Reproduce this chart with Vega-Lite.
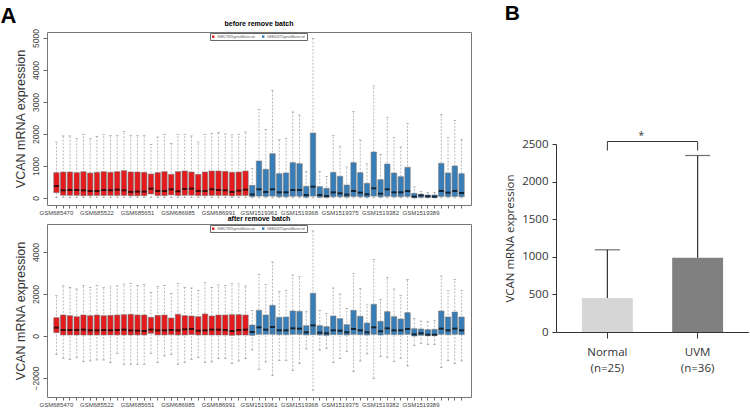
{
"$schema":"https://vega.github.io/schema/vega-lite/v6.json",
"background":"white",
"padding":{"left":0,"top":3,"right":0,"bottom":0},
"config":{"font":"Liberation Sans","view":{"stroke":"#777","strokeWidth":1},"axis":{"grid":false}},
"datasets":{
"before":[
{"s":"GSM685470","b":"GSE27831","lo":10,"q1":167,"med":375,"q3":792,"hi":1750},
{"s":"GSM685475","b":"GSE27831","lo":10,"q1":83,"med":240,"q3":812,"hi":1940},
{"s":"GSM685480","b":"GSE27831","lo":10,"q1":83,"med":250,"q3":812,"hi":1940},
{"s":"GSM685489","b":"GSE27831","lo":10,"q1":83,"med":250,"q3":792,"hi":1855},
{"s":"GSM685500","b":"GSE27831","lo":10,"q1":73,"med":240,"q3":823,"hi":1990},
{"s":"GSM685511","b":"GSE27831","lo":10,"q1":73,"med":220,"q3":780,"hi":1865},
{"s":"GSM685522","b":"GSE27831","lo":10,"q1":80,"med":220,"q3":802,"hi":1927},
{"s":"GSM685530","b":"GSE27831","lo":10,"q1":80,"med":250,"q3":823,"hi":1980},
{"s":"GSM685546","b":"GSE27831","lo":10,"q1":80,"med":240,"q3":802,"hi":1950},
{"s":"GSM685567","b":"GSE27831","lo":10,"q1":80,"med":260,"q3":823,"hi":1960},
{"s":"GSM685590","b":"GSE27831","lo":10,"q1":80,"med":240,"q3":854,"hi":2083},
{"s":"GSM685622","b":"GSE27831","lo":10,"q1":70,"med":190,"q3":812,"hi":1960},
{"s":"GSM685651","b":"GSE27831","lo":10,"q1":70,"med":200,"q3":812,"hi":1960},
{"s":"GSM685680","b":"GSE27831","lo":10,"q1":70,"med":200,"q3":802,"hi":1960},
{"s":"GSM685702","b":"GSE27831","lo":10,"q1":125,"med":292,"q3":750,"hi":1677},
{"s":"GSM685733","b":"GSE27831","lo":10,"q1":75,"med":220,"q3":792,"hi":1906},
{"s":"GSM685760","b":"GSE27831","lo":10,"q1":75,"med":220,"q3":823,"hi":1980},
{"s":"GSM685781","b":"GSE27831","lo":10,"q1":95,"med":270,"q3":740,"hi":1708},
{"s":"GSM686985","b":"GSE27831","lo":10,"q1":75,"med":210,"q3":823,"hi":1990},
{"s":"GSM686986","b":"GSE27831","lo":10,"q1":85,"med":281,"q3":844,"hi":1990},
{"s":"GSM686987","b":"GSE27831","lo":10,"q1":85,"med":292,"q3":812,"hi":1940},
{"s":"GSM686988","b":"GSE27831","lo":10,"q1":75,"med":220,"q3":740,"hi":1750},
{"s":"GSM686989","b":"GSE27831","lo":10,"q1":75,"med":220,"q3":812,"hi":1990},
{"s":"GSM686990","b":"GSE27831","lo":10,"q1":80,"med":270,"q3":844,"hi":2020},
{"s":"GSM686991","b":"GSE27831","lo":10,"q1":80,"med":250,"q3":844,"hi":2052},
{"s":"GSM686992","b":"GSE27831","lo":10,"q1":80,"med":240,"q3":833,"hi":2000},
{"s":"GSM686993","b":"GSE27831","lo":10,"q1":65,"med":190,"q3":802,"hi":1970},
{"s":"GSM686994","b":"GSE27831","lo":10,"q1":75,"med":230,"q3":812,"hi":1990},
{"s":"GSM686995","b":"GSE27831","lo":10,"q1":80,"med":260,"q3":844,"hi":2062},
{"s":"GSM1519360","b":"GSE62075","lo":5,"q1":40,"med":110,"q3":396,"hi":917},
{"s":"GSM1519361","b":"GSE62075","lo":5,"q1":60,"med":271,"q3":1156,"hi":2771},
{"s":"GSM1519362","b":"GSE62075","lo":5,"q1":50,"med":188,"q3":896,"hi":2146},
{"s":"GSM1519363","b":"GSE62075","lo":5,"q1":60,"med":271,"q3":1385,"hi":3365},
{"s":"GSM1519364","b":"GSE62075","lo":5,"q1":40,"med":177,"q3":760,"hi":1833},
{"s":"GSM1519365","b":"GSE62075","lo":5,"q1":40,"med":177,"q3":781,"hi":1865},
{"s":"GSM1519366","b":"GSE62075","lo":5,"q1":55,"med":250,"q3":1104,"hi":2688},
{"s":"GSM1519368","b":"GSE62075","lo":5,"q1":55,"med":250,"q3":1073,"hi":2594},
{"s":"GSM1519369","b":"GSE62075","lo":2,"q1":25,"med":94,"q3":365,"hi":823},
{"s":"GSM1519370","b":"GSE62075","lo":5,"q1":60,"med":354,"q3":2031,"hi":4990},
{"s":"GSM1519371","b":"GSE62075","lo":2,"q1":25,"med":94,"q3":354,"hi":823},
{"s":"GSM1519372","b":"GSE62075","lo":2,"q1":20,"med":62,"q3":302,"hi":677},
{"s":"GSM1519373","b":"GSE62075","lo":5,"q1":40,"med":177,"q3":802,"hi":1948},
{"s":"GSM1519375","b":"GSE62075","lo":5,"q1":40,"med":146,"q3":677,"hi":1625},
{"s":"GSM1519376","b":"GSE62075","lo":2,"q1":30,"med":104,"q3":406,"hi":969},
{"s":"GSM1519377","b":"GSE62075","lo":5,"q1":50,"med":219,"q3":1104,"hi":2698},
{"s":"GSM1519378","b":"GSE62075","lo":5,"q1":40,"med":167,"q3":792,"hi":1812},
{"s":"GSM1519379","b":"GSE62075","lo":2,"q1":30,"med":115,"q3":458,"hi":1083},
{"s":"GSM1519380","b":"GSE62075","lo":5,"q1":60,"med":302,"q3":1438,"hi":3500},
{"s":"GSM1519382","b":"GSE62075","lo":5,"q1":35,"med":135,"q3":573,"hi":1365},
{"s":"GSM1519383","b":"GSE62075","lo":5,"q1":55,"med":271,"q3":1063,"hi":2510},
{"s":"GSM1519384","b":"GSE62075","lo":5,"q1":40,"med":177,"q3":781,"hi":1885},
{"s":"GSM1519385","b":"GSE62075","lo":5,"q1":40,"med":177,"q3":667,"hi":1594},
{"s":"GSM1519386","b":"GSE62075","lo":5,"q1":50,"med":219,"q3":958,"hi":2323},
{"s":"GSM1519387","b":"GSE62075","lo":1,"q1":10,"med":42,"q3":146,"hi":344},
{"s":"GSM1519389","b":"GSE62075","lo":1,"q1":20,"med":83,"q3":115,"hi":198},
{"s":"GSM1519390","b":"GSE62075","lo":1,"q1":15,"med":52,"q3":94,"hi":167},
{"s":"GSM1519391","b":"GSE62075","lo":1,"q1":12,"med":42,"q3":94,"hi":167},
{"s":"GSM1519392","b":"GSE62075","lo":5,"q1":50,"med":219,"q3":1083,"hi":2615},
{"s":"GSM1519393","b":"GSE62075","lo":5,"q1":40,"med":167,"q3":781,"hi":1885},
{"s":"GSM1519394","b":"GSE62075","lo":5,"q1":50,"med":219,"q3":1000,"hi":2427},
{"s":"GSM1519395","b":"GSE62075","lo":5,"q1":40,"med":156,"q3":760,"hi":1833}
],
"after":[
{"s":"GSM685470","b":"GSE27831","lo":-873,"q1":159,"med":397,"q3":873,"hi":1937},
{"s":"GSM685475","b":"GSE27831","lo":-1063,"q1":48,"med":286,"q3":1000,"hi":2413},
{"s":"GSM685480","b":"GSE27831","lo":-1111,"q1":48,"med":286,"q3":968,"hi":2317},
{"s":"GSM685489","b":"GSE27831","lo":-1032,"q1":48,"med":286,"q3":921,"hi":2238},
{"s":"GSM685500","b":"GSE27831","lo":-1222,"q1":48,"med":302,"q3":1000,"hi":2413},
{"s":"GSM685511","b":"GSE27831","lo":-1190,"q1":48,"med":270,"q3":968,"hi":2317},
{"s":"GSM685522","b":"GSE27831","lo":-1143,"q1":48,"med":270,"q3":1000,"hi":2413},
{"s":"GSM685530","b":"GSE27831","lo":-1143,"q1":48,"med":286,"q3":968,"hi":2317},
{"s":"GSM685546","b":"GSE27831","lo":-1270,"q1":48,"med":270,"q3":984,"hi":2381},
{"s":"GSM685567","b":"GSE27831","lo":-825,"q1":48,"med":286,"q3":1000,"hi":2381},
{"s":"GSM685590","b":"GSE27831","lo":-1349,"q1":48,"med":302,"q3":1016,"hi":2476},
{"s":"GSM685622","b":"GSE27831","lo":-1349,"q1":48,"med":270,"q3":1032,"hi":2508},
{"s":"GSM685651","b":"GSE27831","lo":-1349,"q1":48,"med":254,"q3":1000,"hi":2413},
{"s":"GSM685680","b":"GSE27831","lo":-1349,"q1":48,"med":238,"q3":1000,"hi":2460},
{"s":"GSM685702","b":"GSE27831","lo":-825,"q1":127,"med":302,"q3":889,"hi":2079},
{"s":"GSM685733","b":"GSE27831","lo":-1270,"q1":48,"med":270,"q3":984,"hi":2365},
{"s":"GSM685760","b":"GSE27831","lo":-952,"q1":48,"med":270,"q3":1000,"hi":2413},
{"s":"GSM685781","b":"GSE27831","lo":-873,"q1":64,"med":286,"q3":857,"hi":2032},
{"s":"GSM686985","b":"GSE27831","lo":-1349,"q1":48,"med":270,"q3":1032,"hi":2508},
{"s":"GSM686986","b":"GSE27831","lo":-1270,"q1":48,"med":317,"q3":968,"hi":2302},
{"s":"GSM686987","b":"GSE27831","lo":-1111,"q1":64,"med":333,"q3":952,"hi":2286},
{"s":"GSM686988","b":"GSE27831","lo":-1032,"q1":48,"med":254,"q3":921,"hi":2175},
{"s":"GSM686989","b":"GSE27831","lo":-1270,"q1":48,"med":270,"q3":1048,"hi":2540},
{"s":"GSM686990","b":"GSE27831","lo":-1238,"q1":48,"med":302,"q3":952,"hi":2317},
{"s":"GSM686991","b":"GSE27831","lo":-1079,"q1":48,"med":302,"q3":1000,"hi":2429},
{"s":"GSM686992","b":"GSE27831","lo":-1079,"q1":48,"med":286,"q3":1000,"hi":2397},
{"s":"GSM686993","b":"GSE27831","lo":-1317,"q1":32,"med":238,"q3":1016,"hi":2492},
{"s":"GSM686994","b":"GSE27831","lo":-1190,"q1":48,"med":286,"q3":1016,"hi":2476},
{"s":"GSM686995","b":"GSE27831","lo":-1079,"q1":48,"med":302,"q3":1000,"hi":2381},
{"s":"GSM1519360","b":"GSE62075","lo":-667,"q1":32,"med":190,"q3":524,"hi":1222},
{"s":"GSM1519361","b":"GSE62075","lo":-1587,"q1":79,"med":413,"q3":1222,"hi":2937},
{"s":"GSM1519362","b":"GSE62075","lo":-1238,"q1":79,"med":302,"q3":1000,"hi":2444},
{"s":"GSM1519363","b":"GSE62075","lo":-1873,"q1":79,"med":429,"q3":1460,"hi":3524},
{"s":"GSM1519364","b":"GSE62075","lo":-1175,"q1":64,"med":270,"q3":889,"hi":2111},
{"s":"GSM1519365","b":"GSE62075","lo":-1159,"q1":64,"med":270,"q3":905,"hi":2175},
{"s":"GSM1519366","b":"GSE62075","lo":-1635,"q1":79,"med":365,"q3":1190,"hi":2905},
{"s":"GSM1519368","b":"GSE62075","lo":-1317,"q1":79,"med":349,"q3":1175,"hi":2825},
{"s":"GSM1519369","b":"GSE62075","lo":-619,"q1":48,"med":175,"q3":492,"hi":1175},
{"s":"GSM1519370","b":"GSE62075","lo":-2587,"q1":64,"med":508,"q3":2032,"hi":5000},
{"s":"GSM1519371","b":"GSE62075","lo":-667,"q1":48,"med":159,"q3":492,"hi":1206},
{"s":"GSM1519372","b":"GSE62075","lo":-587,"q1":32,"med":127,"q3":444,"hi":1063},
{"s":"GSM1519373","b":"GSE62075","lo":-1270,"q1":64,"med":270,"q3":952,"hi":2286},
{"s":"GSM1519375","b":"GSE62075","lo":-1079,"q1":64,"med":254,"q3":825,"hi":2000},
{"s":"GSM1519376","b":"GSE62075","lo":-730,"q1":48,"med":175,"q3":540,"hi":1317},
{"s":"GSM1519377","b":"GSE62075","lo":-1698,"q1":79,"med":333,"q3":1222,"hi":2968},
{"s":"GSM1519378","b":"GSE62075","lo":-1190,"q1":64,"med":270,"q3":937,"hi":2270},
{"s":"GSM1519379","b":"GSE62075","lo":-857,"q1":48,"med":175,"q3":619,"hi":1476},
{"s":"GSM1519380","b":"GSE62075","lo":-2016,"q1":79,"med":413,"q3":1508,"hi":3635},
{"s":"GSM1519382","b":"GSE62075","lo":-984,"q1":48,"med":222,"q3":698,"hi":1746},
{"s":"GSM1519383","b":"GSE62075","lo":-1016,"q1":79,"med":365,"q3":1159,"hi":2778},
{"s":"GSM1519384","b":"GSE62075","lo":-1222,"q1":64,"med":270,"q3":921,"hi":2238},
{"s":"GSM1519385","b":"GSE62075","lo":-1063,"q1":64,"med":270,"q3":810,"hi":1937},
{"s":"GSM1519386","b":"GSE62075","lo":-1429,"q1":79,"med":333,"q3":1111,"hi":2683},
{"s":"GSM1519387","b":"GSE62075","lo":-444,"q1":0,"med":79,"q3":349,"hi":841},
{"s":"GSM1519389","b":"GSE62075","lo":-349,"q1":32,"med":127,"q3":333,"hi":714},
{"s":"GSM1519390","b":"GSE62075","lo":-397,"q1":16,"med":63,"q3":302,"hi":683},
{"s":"GSM1519391","b":"GSE62075","lo":-413,"q1":16,"med":63,"q3":317,"hi":730},
{"s":"GSM1519392","b":"GSE62075","lo":-1508,"q1":79,"med":349,"q3":1190,"hi":2857},
{"s":"GSM1519393","b":"GSE62075","lo":-1175,"q1":64,"med":270,"q3":905,"hi":2175},
{"s":"GSM1519394","b":"GSE62075","lo":-1317,"q1":79,"med":349,"q3":1143,"hi":2698},
{"s":"GSM1519395","b":"GSE62075","lo":-1190,"q1":64,"med":270,"q3":905,"hi":2175}
],
"bars":[
{"g":"Normal","mean":453,"upper":1093},
{"g":"UVM","mean":987,"upper":2347}
],
"legs":[
{"g":"Normal","y1":2413,"y2":2533},
{"g":"UVM","y1":2413,"y2":2533}
],
"bracket":[{"g1":"Normal","g2":"UVM","y":2533,"t":"*","ty":2610}]
},
"hconcat":[
{
"title":{"text":"A","anchor":"start","fontSize":22,"fontWeight":"bold","font":"Liberation Sans","color":"#000","offset":-9,"dx":-13},
"resolve":{"scale":{"color":"independent"}},
"spacing":-2,
"vconcat":[
{
"width":424,"height":173,
"title":{"text":"before remove batch","fontSize":7,"fontWeight":"bold","font":"Liberation Sans","color":"#000","offset":2},
"data":{"name":"before"},
"encoding":{"x":{"field":"s","type":"ordinal","sort":null,"scale":{"paddingInner":0.2,"paddingOuter":2.54},
"axis":{"title":null,"domain":false,"labelAngle":0,"labelFontSize":6,"labelColor":"#444","tickColor":"#666","tickSize":3,"labelPadding":1,"labelOverlap":false,"labelBound":false,
"labelExpr":"indexof(['GSM685470','GSM685522','GSM685651','GSM686985','GSM686991','GSM1519361','GSM1519368','GSM1519375','GSM1519382','GSM1519389'], datum.value) >= 0 ? datum.value : ''"}}},
"layer":[
{"mark":{"type":"rule","color":"#8a8a8a","strokeDash":[2,1.5],"strokeWidth":0.6},
"encoding":{"y":{"field":"lo","type":"quantitative","title":"VCAN mRNA expression","scale":{"domain":[-219,5187],"nice":false,"zero":false},
"axis":{"values":[0,1000,2000,3000,4000,5000],"format":"d","domain":false,"labelAngle":-90,"labelFontSize":8.5,"labelColor":"#444","tickColor":"#666","tickSize":4,"labelPadding":3,"titleFontSize":12.5,"titleFontWeight":"normal","titleColor":"#333","titlePadding":4}},
"y2":{"field":"hi"}}},
{"mark":{"type":"tick","color":"#777","size":2.6,"thickness":0.7},"encoding":{"y":{"field":"hi","type":"quantitative","title":"VCAN mRNA expression",
"axis":{"values":[0,1000,2000,3000,4000,5000],"format":"d","domain":false,"labelAngle":-90,"labelFontSize":8.5,"labelColor":"#444","tickColor":"#666","tickSize":4,"labelPadding":3,"titleFontSize":12.5,"titleFontWeight":"normal","titleColor":"#333","titlePadding":4}}}},
{"mark":{"type":"tick","color":"#777","size":2.6,"thickness":0.7},"encoding":{"y":{"field":"lo","type":"quantitative","title":"VCAN mRNA expression",
"axis":{"values":[0,1000,2000,3000,4000,5000],"format":"d","domain":false,"labelAngle":-90,"labelFontSize":8.5,"labelColor":"#444","tickColor":"#666","tickSize":4,"labelPadding":3,"titleFontSize":12.5,"titleFontWeight":"normal","titleColor":"#333","titlePadding":4}}}},
{"mark":{"type":"bar","stroke":"#7a7a7a","strokeWidth":0.6},
"encoding":{"y":{"field":"q1","type":"quantitative","title":"VCAN mRNA expression",
"axis":{"values":[0,1000,2000,3000,4000,5000],"format":"d","domain":false,"labelAngle":-90,"labelFontSize":8.5,"labelColor":"#444","tickColor":"#666","tickSize":4,"labelPadding":3,"titleFontSize":12.5,"titleFontWeight":"normal","titleColor":"#333","titlePadding":4}},"y2":{"field":"q3"},
"color":{"field":"b","type":"nominal","scale":{"domain":["GSE27831","GSE62075"],"range":["#E41A1C","#377EB8"]},
"legend":{"orient":"none","legendX":163,"legendY":1,"direction":"horizontal","title":null,"labelExpr":"datum.label + 'geneMatrix.txt'","labelFontSize":3.4,"labelColor":"#555","symbolType":"square","symbolSize":6,"symbolStrokeWidth":0,"strokeColor":"#666","fillColor":"#fff","padding":1.5,"columnPadding":6,"labelOffset":2,"labelLimit":200}}}},
{"mark":{"type":"tick","color":"#000","size":5.1,"thickness":2},"encoding":{"y":{"field":"med","type":"quantitative","title":"VCAN mRNA expression",
"axis":{"values":[0,1000,2000,3000,4000,5000],"format":"d","domain":false,"labelAngle":-90,"labelFontSize":8.5,"labelColor":"#444","tickColor":"#666","tickSize":4,"labelPadding":3,"titleFontSize":12.5,"titleFontWeight":"normal","titleColor":"#333","titlePadding":4}}}}
]
},
{
"width":424,"height":173,
"title":{"text":"after remove batch","fontSize":7,"fontWeight":"bold","font":"Liberation Sans","color":"#000","offset":2},
"data":{"name":"after"},
"encoding":{"x":{"field":"s","type":"ordinal","sort":null,"scale":{"paddingInner":0.2,"paddingOuter":2.54},
"axis":{"title":null,"domain":false,"labelAngle":0,"labelFontSize":6,"labelColor":"#444","tickColor":"#666","tickSize":3,"labelPadding":1,"labelOverlap":false,"labelBound":false,
"labelExpr":"indexof(['GSM685470','GSM685522','GSM685651','GSM686985','GSM686991','GSM1519361','GSM1519368','GSM1519375','GSM1519382','GSM1519389'], datum.value) >= 0 ? datum.value : ''"}}},
"layer":[
{"mark":{"type":"rule","color":"#8a8a8a","strokeDash":[2,1.5],"strokeWidth":0.6},
"encoding":{"y":{"field":"lo","type":"quantitative","title":"VCAN mRNA expression","scale":{"domain":[-2905,5333],"nice":false,"zero":false},
"axis":{"values":[-2000,0,2000,4000],"format":"d","domain":false,"labelAngle":-90,"labelFontSize":8.5,"labelColor":"#444","tickColor":"#666","tickSize":4,"labelPadding":3,"titleFontSize":12.5,"titleFontWeight":"normal","titleColor":"#333","titlePadding":4}},
"y2":{"field":"hi"}}},
{"mark":{"type":"tick","color":"#777","size":2.6,"thickness":0.7},"encoding":{"y":{"field":"hi","type":"quantitative","title":"VCAN mRNA expression",
"axis":{"values":[-2000,0,2000,4000],"format":"d","domain":false,"labelAngle":-90,"labelFontSize":8.5,"labelColor":"#444","tickColor":"#666","tickSize":4,"labelPadding":3,"titleFontSize":12.5,"titleFontWeight":"normal","titleColor":"#333","titlePadding":4}}}},
{"mark":{"type":"tick","color":"#777","size":2.6,"thickness":0.7},"encoding":{"y":{"field":"lo","type":"quantitative","title":"VCAN mRNA expression",
"axis":{"values":[-2000,0,2000,4000],"format":"d","domain":false,"labelAngle":-90,"labelFontSize":8.5,"labelColor":"#444","tickColor":"#666","tickSize":4,"labelPadding":3,"titleFontSize":12.5,"titleFontWeight":"normal","titleColor":"#333","titlePadding":4}}}},
{"mark":{"type":"bar","stroke":"#7a7a7a","strokeWidth":0.6},
"encoding":{"y":{"field":"q1","type":"quantitative","title":"VCAN mRNA expression",
"axis":{"values":[-2000,0,2000,4000],"format":"d","domain":false,"labelAngle":-90,"labelFontSize":8.5,"labelColor":"#444","tickColor":"#666","tickSize":4,"labelPadding":3,"titleFontSize":12.5,"titleFontWeight":"normal","titleColor":"#333","titlePadding":4}},"y2":{"field":"q3"},
"color":{"field":"b","type":"nominal","scale":{"domain":["GSE27831","GSE62075"],"range":["#E41A1C","#377EB8"]},
"legend":{"orient":"none","legendX":163,"legendY":1,"direction":"horizontal","title":null,"labelExpr":"datum.label + 'geneMatrix.txt'","labelFontSize":3.4,"labelColor":"#555","symbolType":"square","symbolSize":6,"symbolStrokeWidth":0,"strokeColor":"#666","fillColor":"#fff","padding":1.5,"columnPadding":6,"labelOffset":2,"labelLimit":200}}}},
{"mark":{"type":"tick","color":"#000","size":5.1,"thickness":2},"encoding":{"y":{"field":"med","type":"quantitative","title":"VCAN mRNA expression",
"axis":{"values":[-2000,0,2000,4000],"format":"d","domain":false,"labelAngle":-90,"labelFontSize":8.5,"labelColor":"#444","tickColor":"#666","tickSize":4,"labelPadding":3,"titleFontSize":12.5,"titleFontWeight":"normal","titleColor":"#333","titlePadding":4}}}}
]
}
]
},
{
"title":{"text":"B","anchor":"start","fontSize":21,"fontWeight":"bold","font":"Liberation Sans","color":"#000","offset":8},
"spacing":0,
"vconcat":[
{"width":193,"height":98,"view":{"stroke":null},"data":{"values":[]},"mark":{"type":"point","opacity":0},"encoding":{}},
{
"width":193,"height":188,
"view":{"stroke":null},
"encoding":{"x":{"field":"g","type":"nominal","sort":["Normal","UVM"],"scale":{"domain":["Normal","UVM"],"paddingInner":0.436,"paddingOuter":0.287},
"axis":{"title":null,"labelAngle":0,"labelExpr":"datum.value == 'Normal' ? ['Normal','(n=25)'] : ['UVM','(n=36)']","labelFontSize":11.5,"labelFont":"Open Sans","labelColor":"#333","domainColor":"#333","tickColor":"#333","tickSize":6,"labelPadding":8,"labelLineHeight":16}}},
"layer":[
{"data":{"name":"bars"},
"mark":{"type":"bar"},
"encoding":{
"y":{"field":"mean","type":"quantitative","title":"VCAN mRNA expression","scale":{"domain":[0,2500],"nice":false},
"axis":{"values":[0,500,1000,1500,2000,2500],"format":"d","grid":false,"tickSize":4,"labelFontSize":11.5,"labelFont":"Open Sans","labelColor":"#333","titleFont":"Open Sans","titleFontSize":11.5,"titleFontWeight":"normal","titleColor":"#333","domainColor":"#333","tickColor":"#333","labelPadding":4,"titlePadding":6}},
"color":{"condition":{"test":"datum.g == 'Normal'","value":"#d6d6d6"},"value":"#808080"}}},
{"data":{"name":"bars"},
"mark":{"type":"rule","color":"#333","strokeWidth":1.2},
"encoding":{"y":{"field":"mean","type":"quantitative","title":"VCAN mRNA expression",
"axis":{"values":[0,500,1000,1500,2000,2500],"format":"d","grid":false,"tickSize":4,"labelFontSize":11.5,"labelFont":"Open Sans","labelColor":"#333","titleFont":"Open Sans","titleFontSize":11.5,"titleFontWeight":"normal","titleColor":"#333","domainColor":"#333","tickColor":"#333","labelPadding":4,"titlePadding":6}},"y2":{"field":"upper"}}},
{"data":{"name":"bars"},
"mark":{"type":"tick","color":"#333","thickness":1.2,"size":25},
"encoding":{"y":{"field":"upper","type":"quantitative","title":"VCAN mRNA expression",
"axis":{"values":[0,500,1000,1500,2000,2500],"format":"d","grid":false,"tickSize":4,"labelFontSize":11.5,"labelFont":"Open Sans","labelColor":"#333","titleFont":"Open Sans","titleFontSize":11.5,"titleFontWeight":"normal","titleColor":"#333","domainColor":"#333","tickColor":"#333","labelPadding":4,"titlePadding":6}}}},
{"data":{"name":"legs"},
"mark":{"type":"rule","color":"#333","strokeWidth":1},
"encoding":{"y":{"field":"y1","type":"quantitative","title":"VCAN mRNA expression",
"axis":{"values":[0,500,1000,1500,2000,2500],"format":"d","grid":false,"tickSize":4,"labelFontSize":11.5,"labelFont":"Open Sans","labelColor":"#333","titleFont":"Open Sans","titleFontSize":11.5,"titleFontWeight":"normal","titleColor":"#333","domainColor":"#333","tickColor":"#333","labelPadding":4,"titlePadding":6}},"y2":{"field":"y2"}}},
{"data":{"name":"bracket"},
"mark":{"type":"rule","color":"#333","strokeWidth":1},
"encoding":{"x":{"field":"g1","type":"nominal"},"x2":{"field":"g2"},"y":{"field":"y","type":"quantitative","title":"VCAN mRNA expression",
"axis":{"values":[0,500,1000,1500,2000,2500],"format":"d","grid":false,"tickSize":4,"labelFontSize":11.5,"labelFont":"Open Sans","labelColor":"#333","titleFont":"Open Sans","titleFontSize":11.5,"titleFontWeight":"normal","titleColor":"#333","domainColor":"#333","tickColor":"#333","labelPadding":4,"titlePadding":6}}}},
{"data":{"name":"bracket"},
"mark":{"type":"text","dx":34,"fontSize":10,"color":"#333","font":"Open Sans"},
"encoding":{"x":{"field":"g1","type":"nominal"},"y":{"field":"ty","type":"quantitative","title":"VCAN mRNA expression",
"axis":{"values":[0,500,1000,1500,2000,2500],"format":"d","grid":false,"tickSize":4,"labelFontSize":11.5,"labelFont":"Open Sans","labelColor":"#333","titleFont":"Open Sans","titleFontSize":11.5,"titleFontWeight":"normal","titleColor":"#333","domainColor":"#333","tickColor":"#333","labelPadding":4,"titlePadding":6}},"text":{"field":"t"}}}
]
}
]
}
],
"spacing":32
}
